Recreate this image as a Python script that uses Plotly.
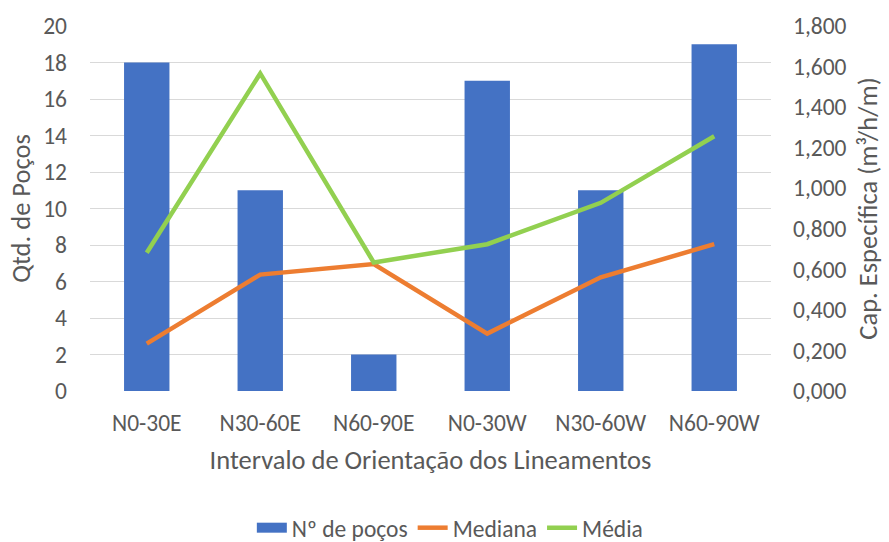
import plotly.graph_objects as go

categories = ["N0-30E", "N30-60E", "N60-90E", "N0-30W", "N30-60W", "N60-90W"]
n_pocos = [18, 11, 2, 17, 11, 19]
mediana = [0.234, 0.574, 0.626, 0.283, 0.561, 0.724]
media = [0.682, 1.566, 0.634, 0.724, 0.928, 1.256]

FONT = "Carlito, Calibri, 'Open Sans', sans-serif"
GRAY = "#595959"
TICK = 23.5
TITLE = 26.5
LEG = 23.5

fig = go.Figure()
fig.add_trace(go.Bar(x=categories, y=n_pocos, name="Nº de poços", legendgroup="bar",
                     showlegend=False,
                     marker=dict(color="#4472C4", line=dict(width=0))))
# legend proxy for the bar series (wide rectangular swatch like the original)
fig.add_trace(go.Scatter(x=[None], y=[None], name="Nº de poços", legendgroup="bar",
                         mode="lines", line=dict(color="#4472C4", width=14)))
fig.add_trace(go.Scatter(x=categories, y=mediana, name="Mediana", yaxis="y2",
                         mode="lines", line=dict(color="#ED7D31", width=4.5)))
fig.add_trace(go.Scatter(x=categories, y=media, name="Média", yaxis="y2",
                         mode="lines", line=dict(color="#92D050", width=4.5)))

fig.update_layout(
    width=889, height=542,
    margin=dict(l=90, r=115, t=24, b=151),
    paper_bgcolor="white", plot_bgcolor="white",
    font=dict(family=FONT, size=TICK, color=GRAY),
    separators=",.",
    bargap=0.6,
    showlegend=True,
    legend=dict(orientation="h", x=0.506, xanchor="center", xref="container",
                y=0.026, yanchor="middle", yref="container",
                itemwidth=30,
                font=dict(size=LEG, color=GRAY), traceorder="normal"),
    xaxis=dict(showgrid=False, zeroline=False, showline=False, ticks="",
               ticklabelstandoff=15,
               tickfont=dict(size=TICK, color=GRAY),
               title=dict(text="Intervalo de Orientação dos Lineamentos",
                          font=dict(size=TITLE, color=GRAY), standoff=14)),
    yaxis=dict(range=[0, 20], dtick=2, tick0=0, showgrid=True, gridcolor="#D9D9D9",
               gridwidth=1.3, zeroline=False, showline=False, ticks="",
               ticklabelstandoff=22, tickfont=dict(size=TICK, color=GRAY),
               title=dict(text="Qtd. de Poços", font=dict(size=TITLE, color=GRAY), standoff=4)),
    yaxis2=dict(range=[0, 1.8], dtick=0.2, tick0=0, overlaying="y", side="right",
                showgrid=False, zeroline=False, showline=False, ticks="",
                tickformat=".3f", ticklabelstandoff=21,
                tickfont=dict(size=TICK, color=GRAY),
                title=dict(text="Cap. Específica (m³/h/m)", font=dict(size=TITLE, color=GRAY), standoff=12)),
)

fig.write_html("out.html")
